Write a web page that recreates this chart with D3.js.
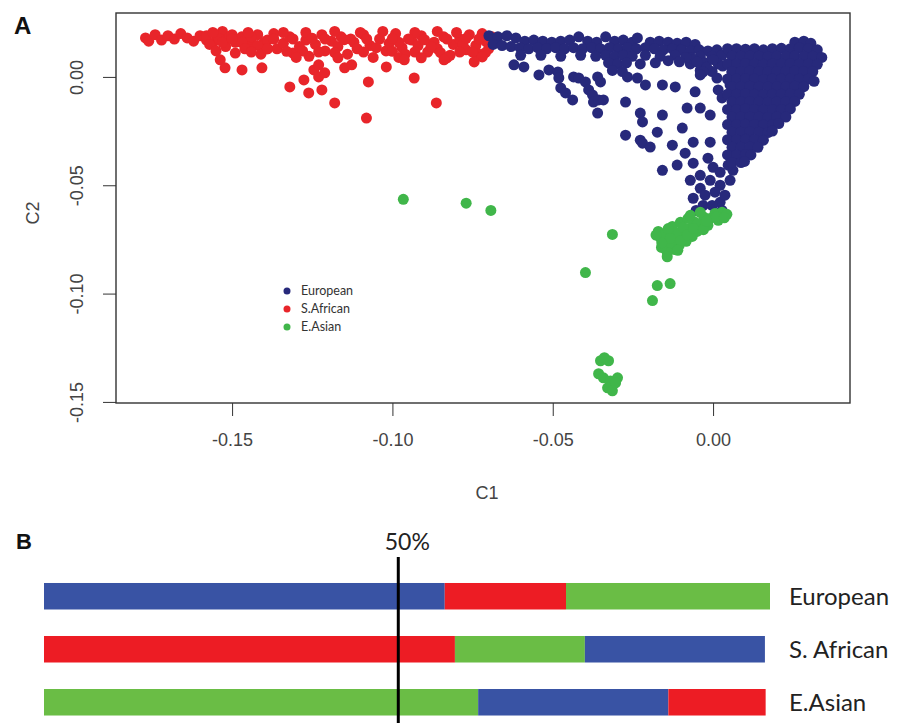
<!DOCTYPE html>
<html>
<head>
<meta charset="utf-8">
<script src="https://cdn.jsdelivr.net/npm/d3@7"></script>
<style>
  body { margin: 0; background: #fff; }
  svg { display: block; font-family: "Liberation Sans", Arial, sans-serif; }
</style>
</head>
<body>
<svg id="chart" width="899" height="723"></svg>
<script>
// Panel A - MDS coordinates [C1, C2], one list per population
var sAfrican = [
  [-0.177,0.0180],[-0.176,0.0165],[-0.174,0.0195],[-0.172,0.0170],[-0.170,0.0190],[-0.168,0.0175],[-0.166,0.0200],[-0.164,0.0180],
  [-0.162,0.0165],[-0.160,0.0190],[-0.158,0.0170],[-0.156,0.0155],[-0.155,0.0195],[-0.153,0.0210],[-0.151,0.0180],[-0.149,0.0160],
  [-0.147,0.0185],[-0.145,0.0145],[-0.144,0.0175],[-0.142,0.0195],[-0.140,0.0160],[-0.139,0.0130],
  [-0.158,0.0190],[-0.157,0.0150],[-0.155,0.0120],[-0.154,0.0175],[-0.152,0.0140],[-0.150,0.0195],[-0.149,0.0110],[-0.147,0.0160],
  [-0.146,0.0130],[-0.144,0.0185],[-0.142,0.0145],[-0.141,0.0105],[-0.139,0.0170],[-0.137,0.0200],[-0.136,0.0130],[-0.134,0.0155],
  [-0.132,0.0185],[-0.131,0.0110],[-0.129,0.0140],[-0.127,0.0170],[-0.126,0.0095],[-0.124,0.0150],[-0.122,0.0195],[-0.121,0.0120],
  [-0.119,0.0165],[-0.117,0.0140],[-0.116,0.0185],[-0.114,0.0105],[-0.112,0.0160],[-0.111,0.0130],[-0.109,0.0195],[-0.107,0.0145],
  [-0.106,0.0090],[-0.104,0.0175],[-0.102,0.0120],[-0.101,0.0155],[-0.099,0.0200],[-0.097,0.0135],[-0.096,0.0105],[-0.094,0.0170],
  [-0.092,0.0145],[-0.091,0.0190],[-0.089,0.0115],[-0.087,0.0160],[-0.086,0.0130],[-0.084,0.0185],[-0.082,0.0100],[-0.081,0.0150],
  [-0.079,0.0175],[-0.077,0.0125],[-0.076,0.0195],[-0.074,0.0145],[-0.073,0.0105],[-0.071,0.0165],[-0.070,0.0130],[-0.069,0.0185],
  [-0.156,0.0205],[-0.145,0.0205],[-0.134,0.0205],[-0.127,0.0205],[-0.118,0.0210],[-0.110,0.0205],[-0.103,0.0210],[-0.093,0.0205],
  [-0.086,0.0210],[-0.080,0.0205],[-0.072,0.0200],
  [-0.153,0.0160],[-0.139,0.0130],[-0.128,0.0120],[-0.113,0.0175],[-0.105,0.0135],[-0.098,0.0160],[-0.088,0.0140],[-0.078,0.0150],[-0.075,0.0115],
  [-0.150,0.0175],[-0.137,0.0175],[-0.131,0.0175],[-0.125,0.0178],[-0.121,0.0175],[-0.115,0.0172],[-0.108,0.0175],[-0.100,0.0178],
  [-0.095,0.0175],[-0.090,0.0172],[-0.083,0.0175],[-0.077,0.0178],[-0.073,0.0175],
  [-0.144,0.0115],[-0.133,0.0118],[-0.123,0.0115],[-0.118,0.0112],[-0.109,0.0115],[-0.100,0.0118],[-0.093,0.0115],[-0.085,0.0112],
  [-0.079,0.0115],[-0.071,0.0112],
  [-0.130,0.0090],[-0.117,0.0088],[-0.098,0.0090],[-0.083,0.0088],[-0.072,0.0092],
  [-0.1537,0.0079],[-0.1522,0.0042],[-0.1469,0.0032],[-0.1407,0.0042],[-0.1320,-0.0046],[-0.1276,-0.0014],[-0.1261,-0.0074],
  [-0.1245,0.0032],[-0.1230,0.0000],[-0.1230,0.0056],[-0.1211,0.0019],[-0.1220,-0.0060],[-0.1180,-0.0120],[-0.1149,0.0042],
  [-0.1127,0.0056],[-0.1075,-0.0023],[-0.1081,-0.0190],[-0.1019,0.0046],[-0.0963,0.0079],[-0.0932,-0.0005],[-0.0910,0.0088],
  [-0.0863,-0.0120],[-0.0839,0.0079],[-0.0745,0.0069]
];

var european = [
  // upper band
  [-0.0699,0.0190],[-0.0671,0.0185],[-0.0643,0.0190],[-0.0615,0.0180],[-0.0587,0.0165],[-0.0559,0.0170],[-0.0531,0.0165],[-0.0503,0.0160],
  [-0.0475,0.0165],[-0.0447,0.0170],[-0.0419,0.0185],[-0.0391,0.0165],[-0.0363,0.0160],[-0.0335,0.0185],[-0.0307,0.0165],[-0.0280,0.0170],
  [-0.0252,0.0160],[-0.0236,0.0180],[-0.0196,0.0160],[-0.0168,0.0165],[-0.0140,0.0160],[-0.0112,0.0155],[-0.0084,0.0160],[-0.0056,0.0150],
  [-0.0686,0.0150],[-0.0658,0.0145],[-0.0630,0.0140],[-0.0602,0.0135],[-0.0575,0.0130],[-0.0547,0.0135],[-0.0519,0.0130],[-0.0491,0.0135],
  [-0.0463,0.0130],[-0.0435,0.0135],[-0.0407,0.0130],[-0.0379,0.0135],[-0.0351,0.0130],[-0.0323,0.0135],[-0.0295,0.0130],[-0.0267,0.0135],
  [-0.0239,0.0130],[-0.0211,0.0135],[-0.0183,0.0130],[-0.0155,0.0125],[-0.0127,0.0130],[-0.0099,0.0125],[-0.0071,0.0120],[-0.0043,0.0125],
  [-0.0016,0.0120],[0.0012,0.0125],
  [-0.0600,0.0100],[-0.0537,0.0100],[-0.0475,0.0095],[-0.0413,0.0100],[-0.0366,0.0095],[-0.0335,0.0100],[-0.0307,0.0095],[-0.0280,0.0100],
  [-0.0252,0.0095],[-0.0211,0.0100],[-0.0165,0.0095],[-0.0118,0.0100],[-0.0071,0.0090],[-0.0040,0.0095],[-0.0003,0.0095],[0.0028,0.0100],
  [-0.0326,0.0065],[-0.0298,0.0060],[-0.0270,0.0065],[-0.0227,0.0060],[-0.0180,0.0065],[-0.0071,0.0060],[-0.0025,0.0065],[0.0016,0.0060],
  [-0.0314,0.0030],[-0.0283,0.0025],[-0.0040,0.0030],[-0.0003,0.0025],
  [-0.0060,0.0080],[-0.0020,0.0045],[0.0000,0.0080],[0.0030,0.0050],[-0.0085,0.0090],[-0.0140,0.0075],[-0.0105,0.0070],
  // scattered points below the band
  [-0.0621,0.0056],[-0.0590,0.0046],[-0.0543,0.0009],[-0.0512,0.0032],[-0.0484,0.0023],[-0.0481,-0.0005],[-0.0475,-0.0051],[-0.0460,-0.0074],
  [-0.0438,-0.0106],[-0.0435,0.0000],[-0.0419,-0.0005],[-0.0398,-0.0023],[-0.0388,-0.0060],[-0.0376,-0.0083],[-0.0360,0.0000],[-0.0351,-0.0023],
  [-0.0373,-0.0116],[-0.0357,-0.0106],[-0.0342,-0.0106],[-0.0360,-0.0167],[-0.0273,-0.0116],[-0.0267,0.0000],[-0.0236,-0.0005],[-0.0211,-0.0037],
  [-0.0158,-0.0037],[-0.0227,-0.0167],[-0.0220,-0.0208],[-0.0158,-0.0176],[-0.0273,-0.0269],[-0.0227,-0.0292],[-0.0220,-0.0306],[-0.0196,-0.0324],
  [-0.0174,-0.0255],[-0.0127,-0.0315],[-0.0158,-0.0431],[-0.0112,-0.0407],[-0.0118,-0.0046],[-0.0096,-0.0236],[-0.0081,-0.0144],[-0.0062,-0.0301],
  [-0.0087,-0.0352],[-0.0062,-0.0398],[-0.0040,-0.0144],[-0.0009,-0.0176],[-0.0031,0.0023],[0.0012,-0.0005],[0.0059,0.0019],[0.0053,-0.0037],
  [-0.0056,-0.0069],[-0.0009,-0.0301],[-0.0016,-0.0375],[0.0000,-0.0417],[-0.0071,-0.0477],[-0.0040,-0.0514],[-0.0062,-0.0560],[-0.0031,-0.0593],
  [0.0022,-0.0579],[-0.0050,0.0069],[-0.0040,0.0009],[0.0016,-0.0060],[0.0028,-0.0097],
  // neck below the dense block
  [-0.0040,-0.0454],[-0.0009,-0.0477],[0.0022,-0.0500],[0.0053,-0.0477],[-0.0025,-0.0546],[0.0006,-0.0532],[0.0037,-0.0546],[-0.0003,-0.0593],
  [0.0028,-0.0616],[-0.0053,-0.0616],[0.0062,-0.0431],[0.0078,-0.0384],[0.0047,-0.0407],[0.0022,-0.0440],
  // dense block on the right
  [0.0255,0.0160],[0.0283,0.0165],[0.0305,0.0155],
  [0.0045,0.0130],[0.0073,0.0130],[0.0101,0.0128],[0.0129,0.0130],[0.0157,0.0125],[0.0185,0.0130],[0.0213,0.0132],[0.0241,0.0130],[0.0269,0.0135],[0.0297,0.0130],[0.0325,0.0125],
  [0.0059,0.0095],[0.0087,0.0095],[0.0115,0.0097],[0.0143,0.0095],[0.0171,0.0093],[0.0199,0.0095],[0.0227,0.0095],[0.0255,0.0097],[0.0283,0.0095],[0.0311,0.0095],[0.0339,0.0090],
  [0.0045,0.0060],[0.0073,0.0060],[0.0101,0.0062],[0.0129,0.0060],[0.0157,0.0058],[0.0185,0.0060],[0.0213,0.0060],[0.0241,0.0062],[0.0269,0.0060],[0.0297,0.0060],[0.0325,0.0058],
  [0.0059,0.0025],[0.0087,0.0025],[0.0115,0.0027],[0.0143,0.0025],[0.0171,0.0023],[0.0199,0.0025],[0.0227,0.0025],[0.0255,0.0027],[0.0283,0.0025],[0.0311,0.0025],
  [0.0045,-0.0010],[0.0073,-0.0010],[0.0101,-0.0008],[0.0129,-0.0010],[0.0157,-0.0012],[0.0185,-0.0010],[0.0213,-0.0010],[0.0241,-0.0008],[0.0269,-0.0010],[0.0297,-0.0010],[0.0315,-0.0020],
  [0.0059,-0.0045],[0.0087,-0.0045],[0.0115,-0.0043],[0.0143,-0.0045],[0.0171,-0.0047],[0.0199,-0.0045],[0.0227,-0.0045],[0.0255,-0.0043],[0.0283,-0.0045],
  [0.0045,-0.0080],[0.0073,-0.0080],[0.0101,-0.0078],[0.0129,-0.0080],[0.0157,-0.0082],[0.0185,-0.0080],[0.0213,-0.0080],[0.0241,-0.0078],[0.0269,-0.0080],
  [0.0059,-0.0115],[0.0087,-0.0115],[0.0115,-0.0113],[0.0143,-0.0115],[0.0171,-0.0117],[0.0199,-0.0115],[0.0227,-0.0115],[0.0255,-0.0113],
  [0.0045,-0.0150],[0.0073,-0.0150],[0.0101,-0.0148],[0.0129,-0.0150],[0.0157,-0.0152],[0.0185,-0.0150],[0.0213,-0.0150],[0.0241,-0.0148],
  [0.0059,-0.0185],[0.0087,-0.0185],[0.0115,-0.0183],[0.0143,-0.0185],[0.0171,-0.0187],[0.0199,-0.0185],[0.0227,-0.0185],
  [0.0045,-0.0220],[0.0073,-0.0220],[0.0101,-0.0218],[0.0129,-0.0220],[0.0157,-0.0222],[0.0185,-0.0220],[0.0205,-0.0215],
  [0.0059,-0.0255],[0.0087,-0.0255],[0.0115,-0.0253],[0.0143,-0.0255],[0.0171,-0.0257],[0.0185,-0.0250],
  [0.0045,-0.0290],[0.0073,-0.0290],[0.0101,-0.0288],[0.0129,-0.0290],[0.0157,-0.0292],
  [0.0059,-0.0325],[0.0087,-0.0325],[0.0115,-0.0323],[0.0140,-0.0325],
  [0.0045,-0.0360],[0.0073,-0.0360],[0.0101,-0.0358],[0.0118,-0.0360],
  [0.0059,-0.0395],[0.0087,-0.0395],[0.0098,-0.0390]
];

var eAsian = [
  [0.0028,-0.0625],[0.0006,-0.0630],[0.0016,-0.0662],[-0.0009,-0.0653],[-0.0028,-0.0648],[-0.0016,-0.0685],[-0.0040,-0.0681],[-0.0056,-0.0671],
  [-0.0050,-0.0713],[-0.0071,-0.0699],[-0.0065,-0.0736],[-0.0087,-0.0718],[-0.0084,-0.0759],[-0.0102,-0.0736],[-0.0106,-0.0778],[-0.0124,-0.0755],
  [-0.0121,-0.0796],[-0.0140,-0.0773],[-0.0143,-0.0810],[-0.0161,-0.0787],[-0.0165,-0.0741],[-0.0171,-0.0713],[-0.0149,-0.0722],[-0.0127,-0.0690],
  [-0.0102,-0.0671],[-0.0078,-0.0653],[-0.0115,-0.0718],[-0.0134,-0.0745],[-0.0093,-0.0694],[0.0043,-0.0634],[-0.0040,-0.0625],[-0.0071,-0.0639],
  [-0.0140,-0.0700],[-0.0160,-0.0765],[-0.0100,-0.0755],[-0.0080,-0.0730],[-0.0060,-0.0700],[-0.0030,-0.0705],[-0.0020,-0.0665],
  [0.0010,-0.0645],[0.0035,-0.0650],[-0.0110,-0.0800],[-0.0143,-0.0830],[-0.0178,-0.0730],
  [-0.0314,-0.0727],[-0.0398,-0.0903],[-0.0174,-0.0963],[-0.0134,-0.0954],[-0.0189,-0.1032],
  [-0.0966,-0.0565],[-0.0770,-0.0583],[-0.0693,-0.0616],
  [-0.0351,-0.1310],[-0.0326,-0.1310],[-0.0339,-0.1296],[-0.0357,-0.1370],[-0.0342,-0.1389],[-0.0320,-0.1403],[-0.0298,-0.1389],
  [-0.0329,-0.1435],[-0.0314,-0.1449],[-0.0304,-0.1412]
];

var popNames = ["European", "S.African", "E.Asian"];
var xTicks = [-0.15, -0.10, -0.05, 0.00];
var yTicks = [0.00, -0.05, -0.10, -0.15];

// Panel B - ancestry proportions (%) for each group, segments left to right
var groups = ["European", "S. African", "E.Asian"];
var segPops = [["European", "S.African", "E.Asian"], ["S.African", "E.Asian", "European"], ["E.Asian", "European", "S.African"]];
var segValues = [[55.2, 16.7, 28.1], [56.6, 17.9, 24.8], [59.8, 26.2, 13.4]];
var markValue = 48.8;
var markLabel = "50%";

var dotColor = { "European": "#27297b", "S.African": "#e8252a", "E.Asian": "#40b64a" };
var barColor = { "European": "#3953a4", "S.African": "#ed1c24", "E.Asian": "#6abd45" };

var svg = d3.select("#chart");

// ---------- panel A ----------
var x = d3.scaleLinear().domain([-0.1862, 0.0427]).range([116, 850]);
var y = d3.scaleLinear().domain([-0.1505, 0.0295]).range([403, 13]);

var pts = svg.append("g").attr("id", "points");
[["S.African", sAfrican], ["European", european], ["E.Asian", eAsian]].forEach(function(p) {
  pts.append("g").selectAll("circle")
    .data(p[1])
    .enter().append("circle")
    .attr("cx", function(d) { return x(d[0]); })
    .attr("cy", function(d) { return y(d[1]); })
    .attr("r", 5.5)
    .attr("fill", dotColor[p[0]]);
});

svg.append("rect")
  .attr("x", 116).attr("y", 13).attr("width", 734).attr("height", 390)
  .attr("fill", "none").attr("stroke", "#333").attr("stroke-width", 1.4);

var fmt = function(d) { return d.toFixed(2); };

var xg = svg.append("g")
  .attr("transform", "translate(0,403)")
  .call(d3.axisBottom(x).tickValues(xTicks).tickSize(13).tickSizeOuter(0).tickPadding(17).tickFormat(fmt));
xg.select(".domain").remove();
xg.attr("font-size", 18).attr("font-family", "Liberation Sans, Arial, sans-serif").attr("color", "#333");
xg.selectAll("text").attr("fill", "#444");

var yg = svg.append("g")
  .attr("transform", "translate(116,0)")
  .call(d3.axisLeft(y).tickValues(yTicks).tickSize(13).tickSizeOuter(0).tickFormat(fmt));
yg.select(".domain").remove();
yg.attr("font-size", 18).attr("font-family", "Liberation Sans, Arial, sans-serif").attr("color", "#333");
yg.selectAll("text")
  .attr("x", null).attr("dy", null)
  .attr("text-anchor", "middle")
  .attr("fill", "#444")
  .attr("transform", "translate(-33,0) rotate(-90)");

svg.append("text").attr("x", 487).attr("y", 499).attr("text-anchor", "middle")
  .attr("font-size", 18).attr("fill", "#444").text("C1");
svg.append("text").attr("transform", "translate(39,213) rotate(-90)").attr("text-anchor", "middle")
  .attr("font-size", 18).attr("fill", "#444").text("C2");

// legend
var leg = svg.append("g").attr("font-family", "Lato, 'Open Sans', sans-serif").attr("font-size", 12.5);
popNames.forEach(function(n, i) {
  leg.append("circle").attr("cx", 287).attr("cy", 291 + i * 18).attr("r", 3.5).attr("fill", dotColor[n]);
  leg.append("text").attr("x", 301).attr("y", 291 + i * 18).attr("dy", "0.35em").attr("fill", "#333").text(n);
});

svg.append("text").attr("x", 14).attr("y", 34).attr("font-size", 24).attr("font-weight", "bold").attr("fill", "#111").text("A");

// ---------- panel B ----------
var bx = d3.scaleLinear().domain([0, 100]).range([44, 770]);
var by = d3.scaleBand().domain(groups).range([570, 728.5]).paddingInner(0.5).paddingOuter(0.245);

var bars = svg.append("g").attr("id", "bars");
groups.forEach(function(g, i) {
  var acc = 0;
  segValues[i].forEach(function(v, j) {
    bars.append("rect")
      .attr("x", bx(acc))
      .attr("y", by(g))
      .attr("width", bx(acc + v) - bx(acc))
      .attr("height", by.bandwidth())
      .attr("fill", barColor[segPops[i][j]]);
    acc += v;
  });
  svg.append("text")
    .attr("x", 789).attr("y", by(g) + by.bandwidth() / 2).attr("dy", "0.35em")
    .attr("font-family", "Lato, 'Open Sans', sans-serif").attr("font-size", 24).attr("fill", "#222")
    .text(g);
});

svg.append("line")
  .attr("x1", bx(markValue)).attr("x2", bx(markValue))
  .attr("y1", 557).attr("y2", 723)
  .attr("stroke", "#000").attr("stroke-width", 3);
svg.append("text")
  .attr("x", bx(markValue) + 9).attr("y", 550).attr("text-anchor", "middle")
  .attr("font-family", "Lato, 'Open Sans', sans-serif").attr("font-size", 23).attr("fill", "#222")
  .text(markLabel);

svg.append("text").attr("x", 16).attr("y", 549).attr("font-size", 22).attr("font-weight", "bold").attr("fill", "#111").text("B");
</script>
</body>
</html>
